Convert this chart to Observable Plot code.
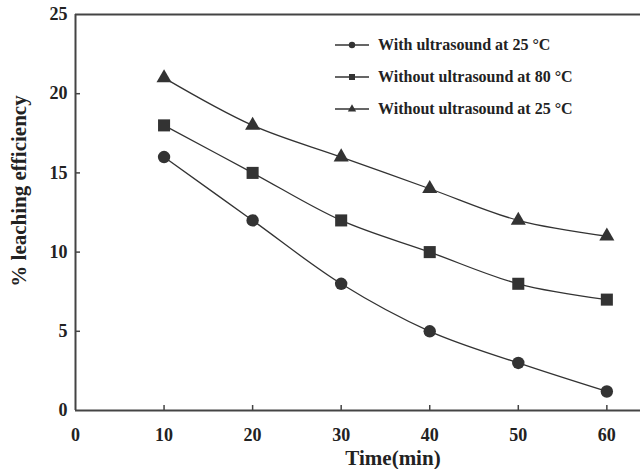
<!DOCTYPE html>
<html><head><meta charset="utf-8">
<script src="https://cdn.jsdelivr.net/npm/d3@7"></script>
<script src="https://cdn.jsdelivr.net/npm/@observablehq/plot@0.6"></script>
<style>
html,body{margin:0;padding:0;background:#fff;}
#wrap{position:relative;width:640px;height:469px;font-family:"Liberation Serif","Times New Roman",serif;font-weight:bold;color:#222;}
.ttl{position:absolute;white-space:nowrap;font-size:21px;}
#legend{position:absolute;left:333px;top:29px;font-size:16px;}
#legend .row{display:flex;align-items:center;height:32px;}
#legend svg{margin-right:7px;}
</style>
</head><body>
<div id="wrap"></div>
<script>
const times = [10, 20, 30, 40, 50, 60];
const seriesNames = ["With ultrasound at 25 \u00B0C", "Without ultrasound at 80 \u00B0C", "Without ultrasound at 25 \u00B0C"];
const withUltrasound25 = [16, 12, 8, 5, 3, 1.2];
const withoutUltrasound80 = [18, 15, 12, 10, 8, 7];
const withoutUltrasound25 = [21, 18, 16, 14, 12, 11];
const xTicks = [0, 10, 20, 30, 40, 50, 60];
const yTicks = [0, 5, 10, 15, 20, 25];

const seriesValues = [withUltrasound25, withoutUltrasound80, withoutUltrasound25];
const symbols = ["circle", "square", "triangle"];
const radii = [6.2, 6.8, 5.6];
const ink = "#333";

const data = seriesValues.flatMap((vals, i) => vals.map((v, j) => ({time: times[j], value: v, series: seriesNames[i]})));

const marks = [
  Plot.ruleY([25], {stroke: "#444", strokeWidth: 1.8}),
  Plot.ruleX([0], {stroke: "#444", strokeWidth: 2}),
  Plot.ruleY([0], {stroke: "#444", strokeWidth: 2}),
  Plot.axisX({ticks: xTicks, tickSize: 0, tickPadding: 18, tickFormat: d => d, fontSize: 18, fontWeight: "bold", fontFamily: "Liberation Serif", label: null}),
  Plot.axisX({ticks: xTicks.filter(d => d > 0), tickSize: -5, text: null, label: null, stroke: "#444", strokeWidth: 1.5}),
  Plot.axisY({ticks: yTicks, tickSize: 0, tickPadding: 8, tickFormat: d => d, fontSize: 18, fontWeight: "bold", fontFamily: "Liberation Serif", label: null}),
  Plot.axisY({ticks: yTicks.filter(d => d > 0 && d < 25), tickSize: -5, text: null, label: null, stroke: "#444", strokeWidth: 1.5})
];
seriesNames.forEach((name, i) => {
  const rows = data.filter(d => d.series === name);
  marks.push(Plot.line(rows, {x: "time", y: "value", curve: "catmull-rom", stroke: ink, strokeWidth: 1.3}));
  marks.push(Plot.dot(rows, {x: "time", y: "value", symbol: symbols[i], r: radii[i], fill: ink, stroke: "none"}));
});

const chart = Plot.plot({
  width: 640, height: 469,
  marginLeft: 75, marginRight: 0, marginTop: 14, marginBottom: 59,
  style: {fontFamily: "Liberation Serif", fontWeight: "bold", color: "#222", background: "#fff"},
  x: {domain: [0, 63.8], axis: null},
  y: {domain: [0, 25], axis: null},
  marks
});
const wrap = document.getElementById("wrap");
wrap.appendChild(chart);

const xt = document.createElement("div");
xt.className = "ttl"; xt.textContent = "Time(min)";
xt.style.left = "393px"; xt.style.top = "458px"; xt.style.transform = "translate(-50%,-50%)";
wrap.appendChild(xt);
const yt = document.createElement("div");
yt.className = "ttl"; yt.textContent = "% leaching efficiency";
yt.style.left = "19px"; yt.style.top = "191px"; yt.style.transform = "translate(-50%,-50%) rotate(-90deg)";
wrap.appendChild(yt);

const legend = document.createElement("div");
legend.id = "legend";
seriesNames.forEach((name, i) => {
  const row = document.createElement("div");
  row.className = "row";
  const s = d3.create("svg").attr("width", 38).attr("height", 16);
  s.append("line").attr("x1", 2).attr("x2", 36).attr("y1", 8).attr("y2", 8).attr("stroke", ink).attr("stroke-width", 1.3);
  const sym = {circle: d3.symbolCircle, square: d3.symbolSquare, triangle: d3.symbolTriangle}[symbols[i]];
  s.append("path").attr("transform", "translate(19,8)").attr("d", d3.symbol(sym, [32, 36, 30][i])()).attr("fill", ink);
  row.appendChild(s.node());
  const t = document.createElement("span"); t.textContent = name;
  row.appendChild(t);
  legend.appendChild(row);
});
wrap.appendChild(legend);
</script>
</body></html>
